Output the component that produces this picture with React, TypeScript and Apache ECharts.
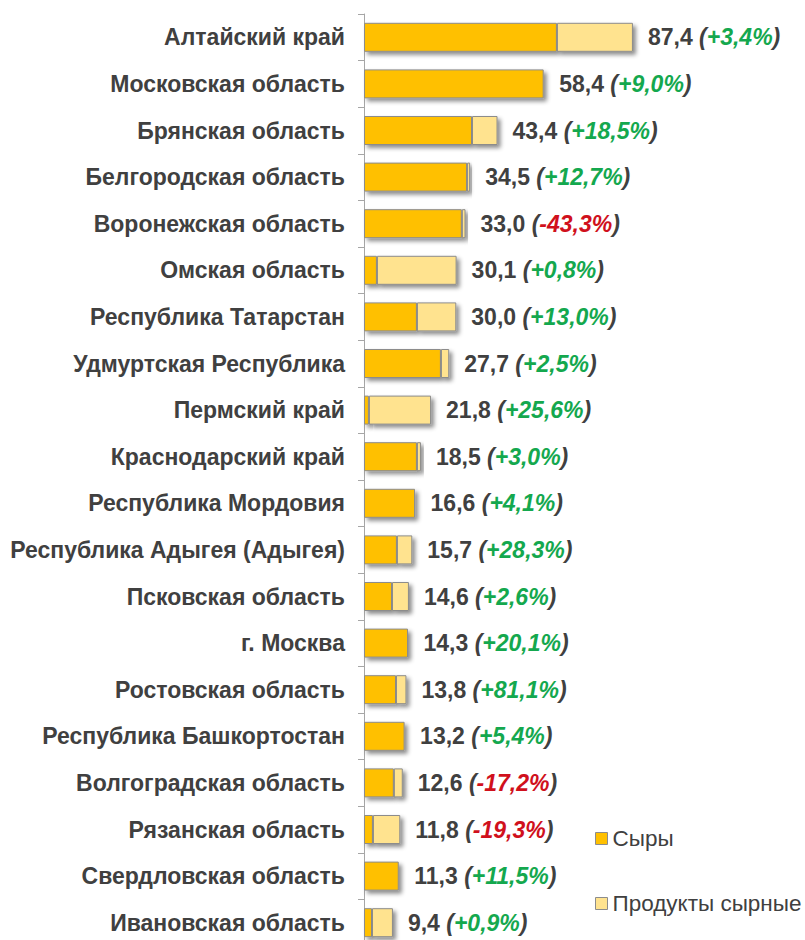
import React, { useEffect, useRef } from "react";
import * as echarts from "echarts";

const regions = [
  "Алтайский край",
  "Московская область",
  "Брянская область",
  "Белгородская область",
  "Воронежская область",
  "Омская область",
  "Республика Татарстан",
  "Удмуртская Республика",
  "Пермский край",
  "Краснодарский край",
  "Республика Мордовия",
  "Республика Адыгея (Адыгея)",
  "Псковская область",
  "г. Москва",
  "Ростовская область",
  "Республика Башкортостан",
  "Волгоградская область",
  "Рязанская область",
  "Свердловская область",
  "Ивановская область",
];

const cheese = [62.7, 58.4, 35.1, 33.5, 31.8, 4.2, 17.2, 25.0, 1.6, 17.2, 16.6, 10.7, 9.1, 14.3, 10.4, 13.2, 9.7, 2.9, 11.3, 2.6];
const cheeseProducts = [24.7, 0, 8.3, 1.0, 1.2, 25.9, 12.8, 2.7, 20.2, 1.3, 0, 5.0, 5.5, 0, 3.4, 0, 2.9, 8.9, 0, 6.8];
const changes = [3.4, 9.0, 18.5, 12.7, -43.3, 0.8, 13.0, 2.5, 25.6, 3.0, 4.1, 28.3, 2.6, 20.1, 81.1, 5.4, -17.2, -19.3, 11.5, 0.9];

const seriesNames = ["Сыры", "Продукты сырные"];

const FONT = "'Liberation Sans', Arial, sans-serif";
const TEXT = "#404040";
const FS = 23;

const fmt = (v: number) => v.toFixed(1).replace(".", ",");

export default function App() {
  const ref = useRef<HTMLDivElement>(null);
  useEffect(() => {
    if (!ref.current) return;
    const chart = echarts.init(ref.current, undefined, { renderer: "svg" });
    const shadow = {
      borderColor: "#8c8c8c",
      borderWidth: 1,
      shadowColor: "rgba(0,0,0,0.45)",
      shadowBlur: 4,
      shadowOffsetX: 3,
      shadowOffsetY: 3,
    };
    chart.setOption({
      animation: false,
      backgroundColor: "#ffffff",
      grid: { left: 364, width: 400, top: 14, height: 932 },
      legend: {
        orient: "vertical",
        left: 590,
        top: 822,
        itemWidth: 12,
        itemHeight: 12,
        itemGap: 42,
        icon: "rect",
        textStyle: { fontFamily: FONT, fontSize: 22.5, color: TEXT },
        itemStyle: { borderColor: "#8c8c8c", borderWidth: 1, shadowBlur: 0, shadowOffsetX: 0, shadowOffsetY: 0 },
        data: seriesNames,
      },
      xAxis: {
        type: "value",
        min: 0,
        max: 130,
        show: false,
      },
      yAxis: {
        type: "category",
        inverse: true,
        data: regions,
        axisLine: { lineStyle: { color: "#a6a6a6", width: 1 } },
        axisTick: { show: true, length: 6, lineStyle: { color: "#a6a6a6" } },
        axisLabel: {
          margin: 19,
          fontFamily: FONT,
          fontSize: FS,
          fontWeight: "bold",
          color: TEXT,
        },
      },
      series: [
        {
          name: seriesNames[0],
          type: "bar",
          stack: "total",
          barWidth: 29,
          data: cheese,
          itemStyle: { color: "#FFC000", ...shadow },
        },
        {
          name: seriesNames[1],
          type: "bar",
          stack: "total",
          barWidth: 29,
          data: cheeseProducts,
          itemStyle: { color: "#FFE38F", ...shadow },
          label: {
            show: true,
            position: "right",
            distance: 15,
            fontFamily: FONT,
            fontSize: FS,
            formatter: (p: any) => {
              const i = p.dataIndex;
              const total = cheese[i] + cheeseProducts[i];
              const c = changes[i];
              const s = (c >= 0 ? "+" : "-") + fmt(Math.abs(c)) + "%";
              return `{v|${fmt(total)}} {p|(}{${c >= 0 ? "g" : "r"}|${s}}{p|)}`;
            },
            rich: {
              v: { fontFamily: FONT, fontSize: FS, fontWeight: "bold", color: TEXT },
              p: { fontFamily: FONT, fontSize: FS, fontWeight: "bold", fontStyle: "italic", color: TEXT },
              g: { fontFamily: FONT, fontSize: FS, fontWeight: "bold", fontStyle: "italic", color: "#14a84e" },
              r: { fontFamily: FONT, fontSize: FS, fontWeight: "bold", fontStyle: "italic", color: "#d0101c" },
            },
          },
        },
      ],
    });
    return () => chart.dispose();
  }, []);
  return (
    <div
      ref={ref}
      style={{ position: "fixed", left: 0, top: 0, width: 805, height: 950 }}
    />
  );
}
